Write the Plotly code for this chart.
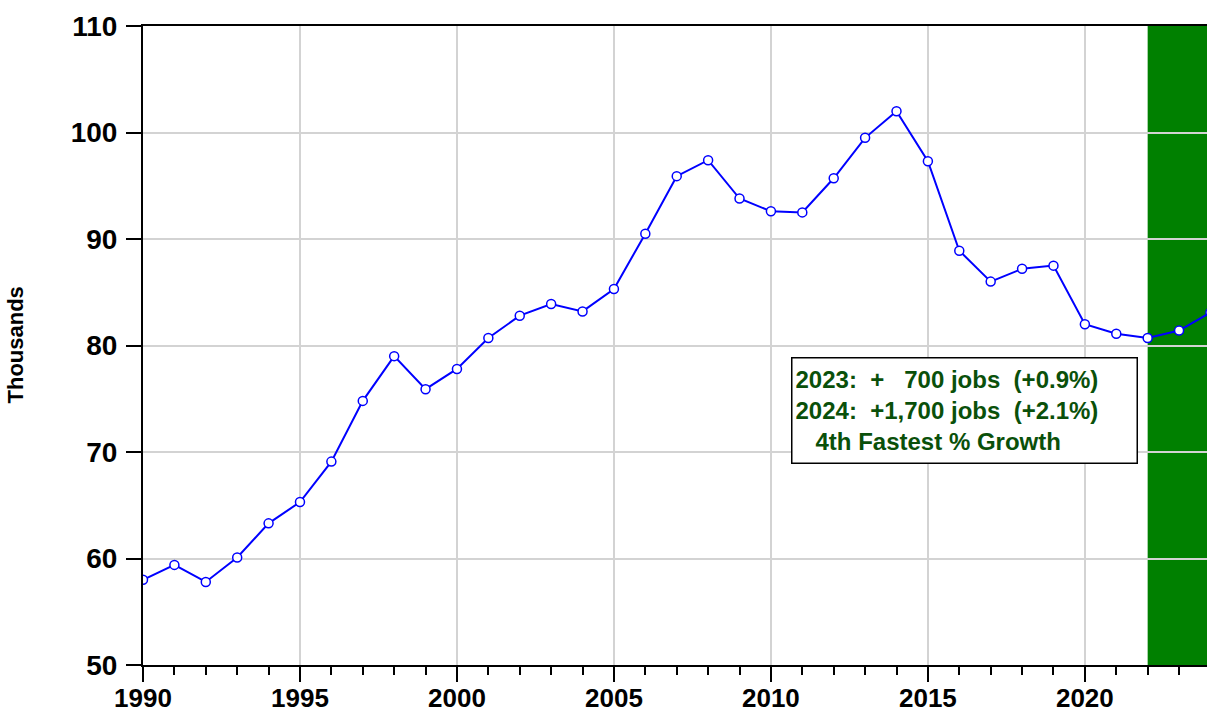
import plotly.graph_objects as go

years = list(range(1990, 2025))
values = [58.0, 59.4, 57.8, 60.1, 63.3, 65.3, 69.1, 74.8, 79.0, 75.9,
          77.8, 80.7, 82.8, 83.9, 83.2, 85.3, 90.5, 95.9, 97.4, 93.8,
          92.6, 92.5, 95.7, 99.5, 102.0, 97.3, 88.9, 86.0, 87.2, 87.5,
          82.0, 81.1, 80.7, 81.4, 83.1]

shade_start = 2022
x_range = [1990, 2023.89]
y_range = [50, 110]

note_lines = [
    "2023:  +   700 jobs  (+0.9%)",
    "2024:  +1,700 jobs  (+2.1%)",
    "   4th Fastest % Growth",
]

FONT = "Liberation Sans, Arial, sans-serif"
DARK_GREEN = "#0a500a"

fig = go.Figure()
fig.add_trace(go.Scatter(
    x=years, y=values, mode="lines+markers",
    line=dict(color="#0000ff", width=2),
    marker=dict(size=9, color="white", line=dict(color="#0000ff", width=1.5)),
    showlegend=False, cliponaxis=True,
))

fig.add_shape(type="rect", xref="x", yref="y",
              x0=shade_start, x1=x_range[1], y0=y_range[0], y1=y_range[1],
              fillcolor="#008000", line=dict(width=0), layer="below")

fig.add_annotation(
    xref="x", yref="y", x=2016.16, y=73.9,
    text="<br>".join(note_lines), showarrow=False, align="left",
    font=dict(family=FONT, size=24, color=DARK_GREEN, weight="bold"),
    bgcolor="white", bordercolor="black", borderwidth=1.5,
    width=338, height=98, borderpad=3,
    xanchor="center", yanchor="middle",
)

fig.add_annotation(
    xref="paper", yref="paper", x=-0.1203, y=0.5,
    text="<b>Thousands</b>", showarrow=False, textangle=-90,
    font=dict(family=FONT, size=22, color="black"),
    xanchor="center", yanchor="middle",
)

fig.update_layout(
    width=1207, height=715,
    margin=dict(l=143, r=0, t=26, b=50, autoexpand=False),
    plot_bgcolor="white", paper_bgcolor="white",
    xaxis=dict(
        range=x_range, dtick=5, tick0=1990, automargin=False,
        showgrid=True, gridcolor="#d3d3d3", gridwidth=1.5,
        showline=True, linecolor="black", linewidth=2, mirror=True,
        ticks="outside", ticklen=15, tickwidth=1.5, tickcolor="black",
        minor=dict(dtick=1, tick0=1990, ticks="outside", ticklen=8, tickwidth=1.5,
                   tickcolor="black", showgrid=False),
        tickfont=dict(family=FONT, size=26, color="black", weight="bold"),
        ticklabelstandoff=-6, zeroline=False,
    ),
    yaxis=dict(
        range=y_range, dtick=10, automargin=False,
        showgrid=True, gridcolor="#d3d3d3", gridwidth=1.5,
        showline=True, linecolor="black", linewidth=2,
        ticks="outside", ticklen=15, tickwidth=1.5, tickcolor="black",
        tickfont=dict(family=FONT, size=28, color="black", weight="bold"),
        ticklabelstandoff=3, zeroline=False,
    ),
)

fig.write_html("out.html", config={"displayModeBar": False},
               post_script="document.body.style.margin='0';document.body.style.overflow='hidden';")
